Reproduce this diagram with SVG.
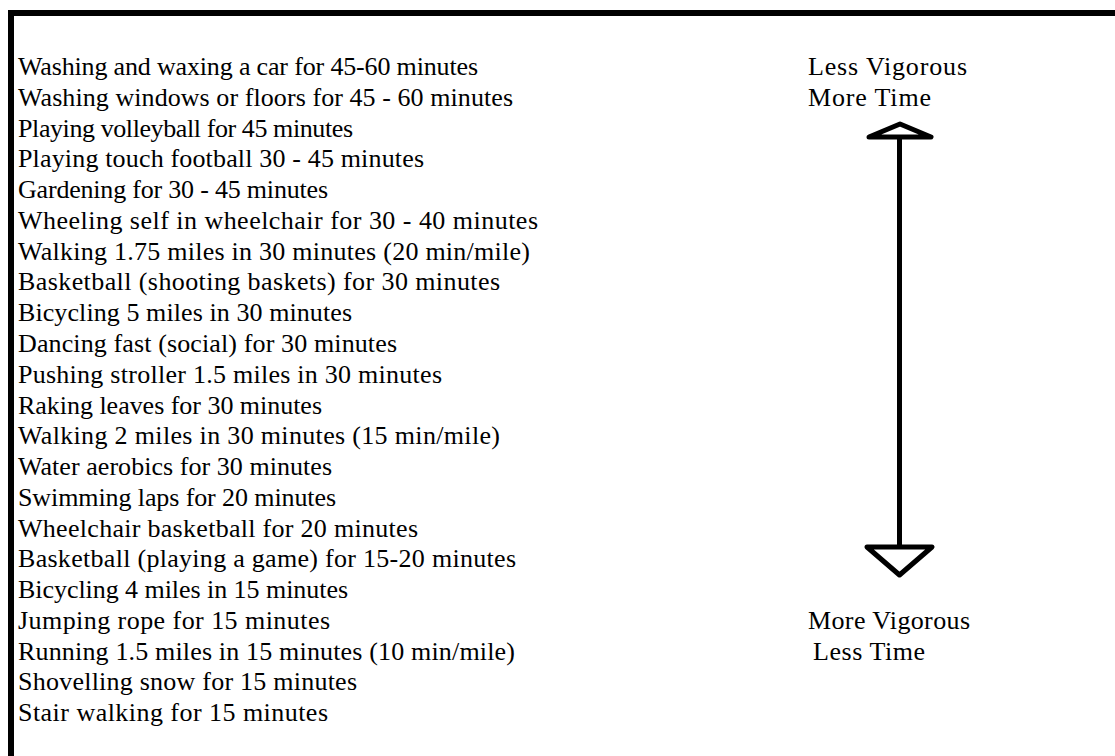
<svg xmlns="http://www.w3.org/2000/svg" width="1115" height="756" viewBox="0 0 1115 756">
<style>
text{font-family:"Liberation Serif","Times New Roman",serif;font-size:26px;fill:#000}
.frame{fill:none;stroke:#000;stroke-width:6}
.arr{fill:none;stroke:#000;stroke-width:5;stroke-linejoin:round}
</style>
<rect width="1115" height="756" fill="#fff"/>
<g id="frame"><path class="frame" d="M11,760 V13 H1120"/></g>
<g id="activities">
<text x="18" y="75" textLength="460" lengthAdjust="spacing">Washing and waxing a car for 45-60 minutes</text>
<text x="18" y="105.8" textLength="495" lengthAdjust="spacing">Washing windows or floors for 45 - 60 minutes</text>
<text x="18" y="136.5" textLength="335" lengthAdjust="spacing">Playing volleyball for 45 minutes</text>
<text x="18" y="167.3" textLength="406" lengthAdjust="spacing">Playing touch football 30 - 45 minutes</text>
<text x="18" y="198.1" textLength="310" lengthAdjust="spacing">Gardening for 30 - 45 minutes</text>
<text x="18" y="228.9" textLength="520" lengthAdjust="spacing">Wheeling self in wheelchair for 30 - 40 minutes</text>
<text x="18" y="259.6" textLength="512" lengthAdjust="spacing">Walking 1.75 miles in 30 minutes (20 min/mile)</text>
<text x="18" y="290.4" textLength="482" lengthAdjust="spacing">Basketball (shooting baskets) for 30 minutes</text>
<text x="18" y="321.2" textLength="334" lengthAdjust="spacing">Bicycling 5 miles in 30 minutes</text>
<text x="18" y="351.9" textLength="379" lengthAdjust="spacing">Dancing fast (social) for 30 minutes</text>
<text x="18" y="382.7" textLength="424" lengthAdjust="spacing">Pushing stroller 1.5 miles in 30 minutes</text>
<text x="18" y="413.5" textLength="304" lengthAdjust="spacing">Raking leaves for 30 minutes</text>
<text x="18" y="444.2" textLength="482" lengthAdjust="spacing">Walking 2 miles in 30 minutes (15 min/mile)</text>
<text x="18" y="475" textLength="314" lengthAdjust="spacing">Water aerobics for 30 minutes</text>
<text x="18" y="505.8" textLength="318" lengthAdjust="spacing">Swimming laps for 20 minutes</text>
<text x="18" y="536.5" textLength="400" lengthAdjust="spacing">Wheelchair basketball for 20 minutes</text>
<text x="18" y="567.3" textLength="498" lengthAdjust="spacing">Basketball (playing a game) for 15-20 minutes</text>
<text x="18" y="598.1" textLength="330" lengthAdjust="spacing">Bicycling 4 miles in 15 minutes</text>
<text x="18" y="628.9" textLength="312" lengthAdjust="spacing">Jumping rope for 15 minutes</text>
<text x="18" y="659.6" textLength="497" lengthAdjust="spacing">Running 1.5 miles in 15 minutes (10 min/mile)</text>
<text x="18" y="690.4" textLength="339" lengthAdjust="spacing">Shovelling snow for 15 minutes</text>
<text x="18" y="721.2" textLength="310" lengthAdjust="spacing">Stair walking for 15 minutes</text>
</g>
<g id="label-top">
<text x="808" y="75" textLength="159" lengthAdjust="spacing">Less Vigorous</text>
<text x="808" y="105.8" textLength="123" lengthAdjust="spacing">More Time</text>
</g>
<g id="label-bottom">
<text x="808" y="628.9" textLength="162" lengthAdjust="spacing">More Vigorous</text>
<text x="813" y="659.6" textLength="112" lengthAdjust="spacing">Less Time</text>
</g>
<g id="connectors">
<line class="arr" x1="899.5" y1="138" x2="899.5" y2="547"/>
<polygon class="arr" points="869,137 900,124 931,137"/>
<polygon class="arr" points="867,547 899.5,575 932,547"/>
</g>
</svg>
